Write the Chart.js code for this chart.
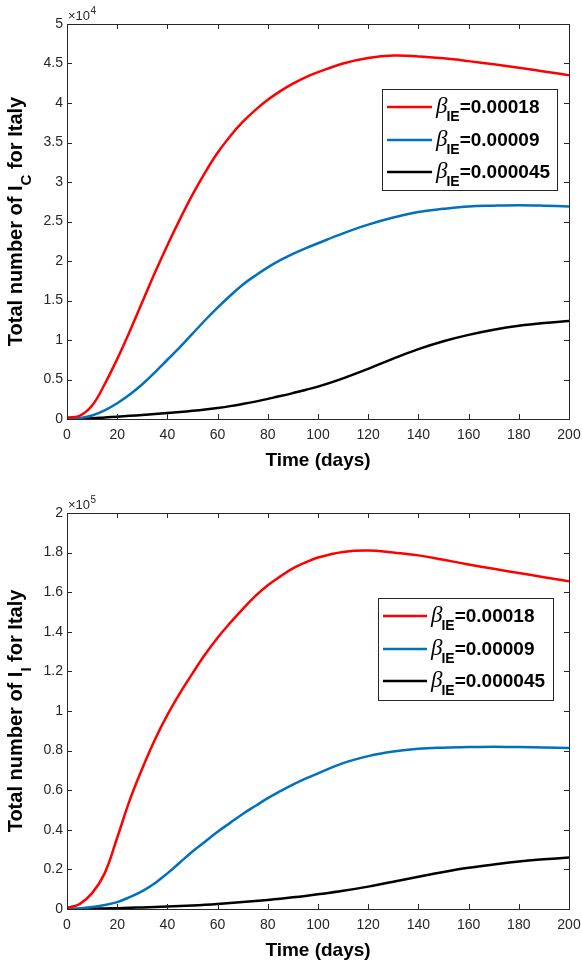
<!DOCTYPE html>
<html><head><meta charset="utf-8">
<script src="https://cdn.jsdelivr.net/npm/chart.js@4.4.1/dist/chart.umd.min.js"></script>
<style>
html,body{margin:0;padding:0;background:#fff;}
.wrap{position:absolute;left:0;width:582px;height:483px;}
canvas{display:block;}
</style></head><body>
<div class="wrap" style="top:0"><canvas id="c1" width="582" height="483"></canvas></div>
<div class="wrap" style="top:483px"><canvas id="c2" width="582" height="483"></canvas></div>
<script>
// ---- data ----
const days = [0,5,10,15,20,25,30,35,40,45,50,55,60,65,70,75,80,85,90,95,100,110,120,130,140,150,160,170,180,190,200];
const seriesLabels = ['0.00018','0.00009','0.000045'];
const seriesColors = ['#FF0000','#0072BD','#000000'];

// Top panel: I_C (x10^4)
const icRed   = [0.02,0.04,0.17,0.44,0.76,1.11,1.48,1.85,2.2,2.53,2.84,3.12,3.37,3.58,3.76,3.91,4.04,4.15,4.245,4.325,4.39,4.50,4.57,4.60,4.59,4.565,4.53,4.49,4.445,4.40,4.35];
const icBlue  = [0,0.01,0.045,0.11,0.2,0.31,0.44,0.59,0.75,0.91,1.08,1.25,1.41,1.56,1.70,1.815,1.92,2.01,2.09,2.16,2.225,2.35,2.46,2.55,2.62,2.66,2.69,2.70,2.705,2.70,2.69];
const icBlack = [0,0.004,0.01,0.02,0.03,0.04,0.05,0.062,0.075,0.088,0.103,0.12,0.14,0.163,0.19,0.22,0.255,0.29,0.328,0.368,0.41,0.515,0.635,0.765,0.885,0.985,1.065,1.13,1.18,1.215,1.24];

// Bottom panel: I_I (x10^5)
const iiRed   = [0.005,0.025,0.08,0.18,0.36,0.55,0.71,0.855,0.98,1.09,1.19,1.285,1.37,1.445,1.515,1.58,1.635,1.68,1.72,1.75,1.775,1.803,1.81,1.80,1.786,1.764,1.74,1.718,1.697,1.676,1.655];
const iiBlue  = [0,0.003,0.01,0.02,0.035,0.06,0.09,0.13,0.18,0.235,0.29,0.34,0.39,0.435,0.48,0.52,0.56,0.595,0.628,0.658,0.685,0.737,0.772,0.795,0.809,0.815,0.818,0.819,0.818,0.816,0.813];
const iiBlack = [0,0.001,0.002,0.003,0.004,0.006,0.008,0.01,0.012,0.015,0.018,0.021,0.025,0.03,0.035,0.04,0.046,0.052,0.059,0.066,0.074,0.092,0.113,0.138,0.163,0.187,0.208,0.225,0.24,0.251,0.26];

const xMin = 0, xMax = 200, xStep = 20;
const topYMax = 5, topYStep = 0.5;
const botYMax = 2, botYStep = 0.2;

const FONT = '"Liberation Sans", Arial, sans-serif';
const AXC = '#262626';

const matlabPlugin = {
  id: 'matlab',
  afterDraw(chart, args, o) {
    const ctx = chart.ctx;
    const a = chart.chartArea;
    const xs = chart.scales.x, ys = chart.scales.y;
    ctx.save();
    // ticks (inward, all four sides)
    ctx.strokeStyle = AXC; ctx.lineWidth = 1;
    ctx.beginPath();
    xs.ticks.forEach(t => {
      const p = Math.round(xs.getPixelForValue(t.value)) + 0.5;
      ctx.moveTo(p, a.bottom); ctx.lineTo(p, a.bottom - 5);
      ctx.moveTo(p, a.top); ctx.lineTo(p, a.top + 5);
    });
    ys.ticks.forEach(t => {
      const p = Math.round(ys.getPixelForValue(t.value)) + 0.5;
      ctx.moveTo(a.left, p); ctx.lineTo(a.left + 5, p);
      ctx.moveTo(a.right, p); ctx.lineTo(a.right - 5, p);
    });
    ctx.stroke();
    // frame
    ctx.strokeRect(Math.round(a.left) + 0.5, Math.round(a.top) + 0.5, Math.round(a.right - a.left), Math.round(a.bottom - a.top));

    // exponent
    ctx.fillStyle = AXC;
    ctx.textBaseline = 'alphabetic'; ctx.textAlign = 'left';
    ctx.font = '13px ' + FONT;
    const ex = a.left + 1, ey = a.top - 4;
    ctx.fillText('\u00d710', ex, ey);
    const w10 = ctx.measureText('\u00d710').width;
    ctx.font = '10px ' + FONT;
    ctx.fillText(o.exp, ex + w10 + 0.5, ey - 6);

    // y title with subscript
    ctx.fillStyle = '#000';
    const mainF = 'bold 20px ' + FONT, subF = 'bold 15px ' + FONT;
    const p1 = 'Total number of I', p3 = ' for Italy';
    ctx.font = mainF; const w1 = ctx.measureText(p1).width, w3 = ctx.measureText(p3).width;
    ctx.font = subF; const w2 = ctx.measureText(o.sub).width;
    const total = w1 + w2 + w3;
    ctx.save();
    ctx.translate(22, (a.top + a.bottom) / 2);
    ctx.rotate(-Math.PI / 2);
    let cx = -total / 2;
    ctx.font = mainF; ctx.fillText(p1, cx, 0); cx += w1;
    ctx.font = subF; ctx.fillText(o.sub, cx, 9); cx += w2;
    ctx.font = mainF; ctx.fillText(p3, cx, 0);
    ctx.restore();

    // legend
    const L = o.legend;
    ctx.fillStyle = '#fff';
    ctx.fillRect(L.x, L.y, L.w, L.h);
    ctx.strokeStyle = AXC; ctx.lineWidth = 1;
    ctx.strokeRect(L.x + 0.5, L.y + 0.5, L.w, L.h);
    chart.data.datasets.forEach((ds, i) => {
      const ry = L.rows[i];
      ctx.strokeStyle = ds.borderColor; ctx.lineWidth = 2.5;
      ctx.beginPath(); ctx.moveTo(L.lx1, ry); ctx.lineTo(L.lx2, ry); ctx.stroke();
      ctx.fillStyle = '#000';
      let tx = L.lx2 + 4; const by = ry + 5.5;
      ctx.font = 'italic 23px "Liberation Serif", "DejaVu Serif", serif';
      ctx.fillText('\u03b2', tx, by);
      tx += ctx.measureText('\u03b2').width - 1;
      ctx.font = 'bold 14px ' + FONT;
      ctx.fillText('IE', tx, by + 8);
      tx += ctx.measureText('IE').width;
      ctx.font = 'bold 19px ' + FONT;
      ctx.fillText('=' + seriesLabels[i], tx, by);
    });
    ctx.restore();
  }
};

function makeChart(id, vals, yMax, yStep, opts) {
  const H = 483;
  const datasets = vals.map((v, i) => ({
    label: '\u03b2IE=' + seriesLabels[i],
    data: days.map((d, j) => ({x: d, y: v[j]})),
    borderColor: seriesColors[i],
    borderWidth: 2.5,
    pointRadius: 0,
    fill: false,
    tension: 0.4
  }));
  return new Chart(document.getElementById(id), {
    type: 'line',
    data: {datasets},
    options: {
      responsive: false, animation: false, devicePixelRatio: 1,
      layout: {padding: {left: 0, top: opts.top, right: 13, bottom: 0}},
      plugins: {legend: {display: false}, tooltip: {enabled: false}, matlab: opts.plugin},
      scales: {
        x: {
          type: 'linear', min: xMin, max: xMax,
          grid: {display: false, drawTicks: false}, border: {display: false},
          ticks: {stepSize: xStep, color: AXC, font: {family: FONT, size: 14}, padding: 8, maxRotation: 0},
          title: {display: true, text: 'Time (days)', color: '#000',
                  font: {family: FONT, size: 19, weight: 'bold', lineHeight: 1.2},
                  padding: {top: 0, bottom: opts.titlePad}},
          afterFit: s => { s.height = H - opts.bottom; s.paddingLeft = 0; s.paddingRight = 0; }
        },
        y: {
          type: 'linear', min: 0, max: yMax,
          grid: {display: false, drawTicks: false}, border: {display: false},
          ticks: {stepSize: yStep, color: AXC, font: {family: FONT, size: 14}, padding: 4,
                  callback: v => String(Number(v.toFixed(1)))},
          afterFit: s => { s.width = 67; s.paddingTop = 0; s.paddingBottom = 0; }
        }
      }
    },
    plugins: [matlabPlugin]
  });
}

makeChart('c1', [icRed, icBlue, icBlack], topYMax, topYStep, {
  top: 24, bottom: 419, titlePad: 10.5,
  plugin: {exp: '4', sub: 'C',
    legend: {x: 382, y: 89, w: 175, h: 101, lx1: 387, lx2: 432, rows: [107, 140, 172]}}
});
makeChart('c2', [iiRed, iiBlue, iiBlack], botYMax, botYStep, {
  top: 30, bottom: 426, titlePad: 3.5,
  plugin: {exp: '5', sub: 'I',
    legend: {x: 378, y: 115, w: 175, h: 102, lx1: 383, lx2: 427, rows: [133, 166, 198]}}
});
</script>
</body></html>
